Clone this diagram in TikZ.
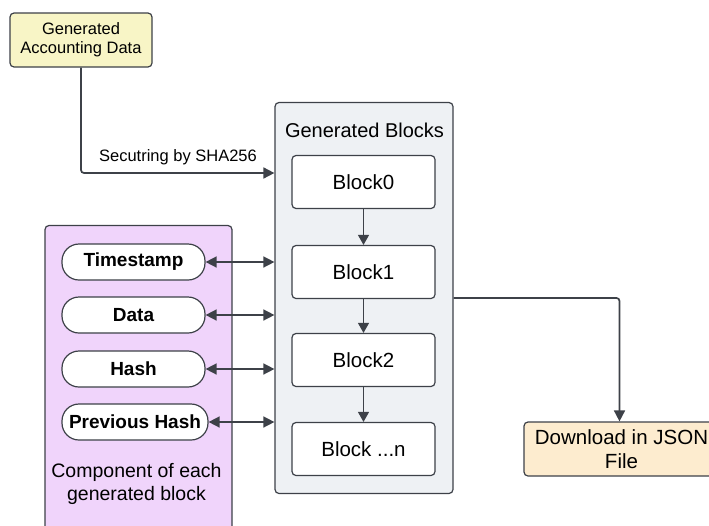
\documentclass[tikz,border=0pt]{standalone}
\usepackage{fontspec}
\setmainfont{Liberation Sans}
\usetikzlibrary{arrows.meta}
\definecolor{edge}{HTML}{3D4148}
\definecolor{panel}{HTML}{EEF1F4}
\definecolor{lilac}{HTML}{F0D4FB}
\definecolor{cream}{HTML}{F8F5C6}
\definecolor{peach}{HTML}{FDECCF}
\tikzset{
  box/.style={draw=edge, line width=1.2pt, rounded corners=4pt, align=center, inner sep=0pt},
  blockbox/.style={box, fill=white, minimum width=143pt, minimum height=53pt, font=\fontsize{20.5}{24}\selectfont},
  pill/.style={draw=edge, line width=1.2pt, fill=white, rounded corners=17pt, minimum width=143pt, minimum height=36pt, inner sep=0pt, font=\bfseries\fontsize{19}{22}\selectfont},
  conn/.style={draw=edge, line width=1.7pt, rounded corners=3pt, -{Triangle[length=11pt,width=11pt]}},
  twoway/.style={draw=edge, line width=1.5pt, {Triangle[length=11pt,width=11pt]}-{Triangle[length=11pt,width=11pt]}},
  chain/.style={draw=edge, line width=1.1pt, -{Triangle[length=10pt,width=11pt]}}
}
\begin{document}
\begin{tikzpicture}[x=1pt,y=-1pt]
\useasboundingbox (0,0) rectangle (709,525);

% source data
\node[box, fill=cream, minimum width=142pt, minimum height=54pt, font=\fontsize{16.5}{19}\selectfont] (acc) at (81,40) {Generated\\Accounting Data};

% container of the chain
\node[box, fill=panel, minimum width=178pt, minimum height=391pt] (cont) at (364,298) {};
\node[font=\fontsize{20}{22}\selectfont] (ctitle) at (364.5,130) {Generated Blocks};
\node[blockbox] (b0) at (363.5,182) {Block0};
\node[blockbox] (b1) at (363.5,272) {Block1};
\node[blockbox] (b2) at (363.5,360) {Block2};
\node[blockbox] (bn) at (363.5,449) {Block ...n};

% components panel
\node[box, fill=lilac, minimum width=187pt, minimum height=309pt] (comp) at (138.5,380) {};
\node[pill] (ts) at (133.5,262) {Timestamp};
\node[pill] (dt) at (133.5,315) {Data};
\node[pill] (hs) at (133.5,369) {Hash};
\node[pill, minimum width=146pt] (ph) at (135,422) {Previous Hash};
\node[align=center, font=\fontsize{19.5}{23}\selectfont] (ctext) at (136.5,484) {Component of each\\generated block};

% output
\node[box, fill=peach, minimum width=191pt, minimum height=54pt] (dl) at (619.5,449) {};
\node[align=center, font=\fontsize{20.5}{24}\selectfont] (dltext) at (621.5,449) {Download in JSON\\File};

% connectors
\coordinate (entry) at (cont.west |- 0,173);
\draw[conn] (acc.south) |- (entry);
\node[font=\fontsize{16.5}{18}\selectfont] (lbl) at (178,157) {Secutring by SHA256};

\draw[chain] (b0) -- (b1);
\draw[chain] (b1) -- (b2);
\draw[chain] (b2) -- (bn);

\draw[twoway] (ts.east) -- (cont.west |- ts.east);
\draw[twoway] (dt.east) -- (cont.west |- dt.east);
\draw[twoway] (hs.east) -- (cont.west |- hs.east);
\draw[twoway] (ph.east) -- (cont.west |- ph.east);

\draw[conn] (cont.east) -| (dl.north);
\end{tikzpicture}
\end{document}
